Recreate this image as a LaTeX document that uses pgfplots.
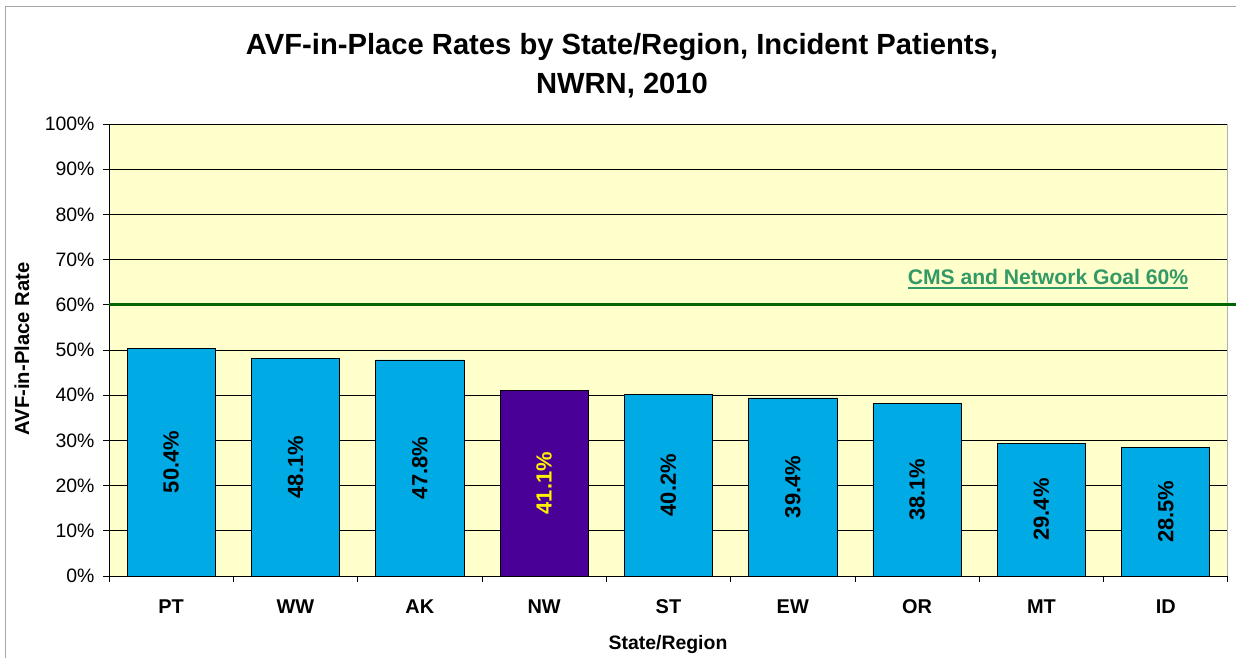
\documentclass[border=0pt]{standalone}
\usepackage{pgfplots}
\pgfplotsset{compat=1.18}
\usepackage{pgfplotstable}
\usepackage{fontspec}
\setmainfont{Liberation Sans}
\definecolor{barblue}{RGB}{0,170,228}
\definecolor{nwpurple}{RGB}{72,0,150}
\definecolor{plotbg}{RGB}{255,255,204}
\definecolor{goalline}{RGB}{0,100,0}
\definecolor{goaltext}{RGB}{51,153,102}
\pgfplotstableread{
x v
0 50.4
1 48.1
2 47.8
4 40.2
5 39.4
6 38.1
7 29.4
8 28.5
}\bluedata
\pgfplotstableread{
x v
3 41.1
}\nwdata
\begin{document}
\begin{tikzpicture}
\path[use as bounding box] (0,0) rectangle (1236bp,658bp);
\draw[gray!70, line width=1bp] (5bp,0) -- (5bp,651bp) -- (1236bp,651bp);
\begin{axis}[
  at={(109bp,82bp)}, anchor=south west,
  scale only axis, width=1119bp, height=452bp,
  xmin=-0.5, xmax=8.5, ymin=0, ymax=100,
  clip=false,
  axis background/.style={fill=plotbg},
  axis lines*=left,
  axis line style={black, line width=0.8bp},
  xtick={0,...,8},
  xticklabels={PT,WW,AK,NW,ST,EW,OR,MT,ID},
  major x tick style={draw=none},
  minor xtick={-0.5,0.5,...,8.5},
  minor tick length=6bp,
  major tick length=6bp,
  tick align=outside,
  tick style={black, line width=0.8bp},
  ytick={0,10,...,100},
  yticklabel={\pgfmathprintnumber{\tick}\%},
  /pgf/number format/assume math mode=true,
  ymajorgrids,
  major grid style={black, line width=0.8bp},
  yticklabel style={font=\fontsize{19.5}{22}\selectfont, xshift=-5bp},
  xticklabel style={font=\bfseries\fontsize{20}{22}\selectfont, yshift=-14bp},
]
\addplot[ybar, bar shift=0pt, bar width=0.71, fill=barblue, draw=black, line width=0.8bp] table[x=x,y=v]{\bluedata};
\addplot[ybar, bar shift=0pt, bar width=0.71, fill=nwpurple, draw=black, line width=0.8bp] table[x=x,y=v]{\nwdata};
\addplot[draw=none, mark=none, point meta=explicit,
  nodes near coords={\pgfmathprintnumber[fixed,precision=1,fixed zerofill]{\pgfplotspointmeta}\%},
  every node near coord/.append style={anchor=center, rotate=90, black, font=\bfseries\fontsize{22}{24}\selectfont}]
  table[x=x, y expr=\thisrow{v}/2, meta=v]{\bluedata};
\addplot[draw=none, mark=none, point meta=explicit,
  nodes near coords={\pgfmathprintnumber[fixed,precision=1,fixed zerofill]{\pgfplotspointmeta}\%},
  every node near coord/.append style={anchor=center, rotate=90, yellow, font=\bfseries\fontsize{22}{24}\selectfont}]
  table[x=x, y expr=\thisrow{v}/2, meta=v]{\nwdata};
\draw[gray!60, line width=1bp] (rel axis cs:1,0) -- (rel axis cs:1,1);
\draw[goalline, line width=3bp] (axis cs:-0.5,60) -- ([xshift=9bp]axis cs:8.5,60);
\end{axis}
\node[font=\bfseries\fontsize{29.3}{39}\selectfont, align=center] at (622bp,592bp) {AVF-in-Place Rates by State/Region, Incident Patients,\\NWRN, 2010};
\node[font=\bfseries\fontsize{20.3}{24}\selectfont, rotate=90] at (22bp,309bp) {AVF-in-Place Rate};
\node[font=\bfseries\fontsize{19.5}{24}\selectfont] at (668bp,13bp) {State/Region};
\node[inner sep=0pt, font=\bfseries\fontsize{21.2}{24}\selectfont, text=goaltext] (g) at (1048bp,381bp) {CMS and Network Goal 60\%};
\draw[goaltext, line width=2.5bp] ([yshift=-3.5bp]g.base west) -- ([yshift=-3.5bp]g.base east);
\end{tikzpicture}
\end{document}
